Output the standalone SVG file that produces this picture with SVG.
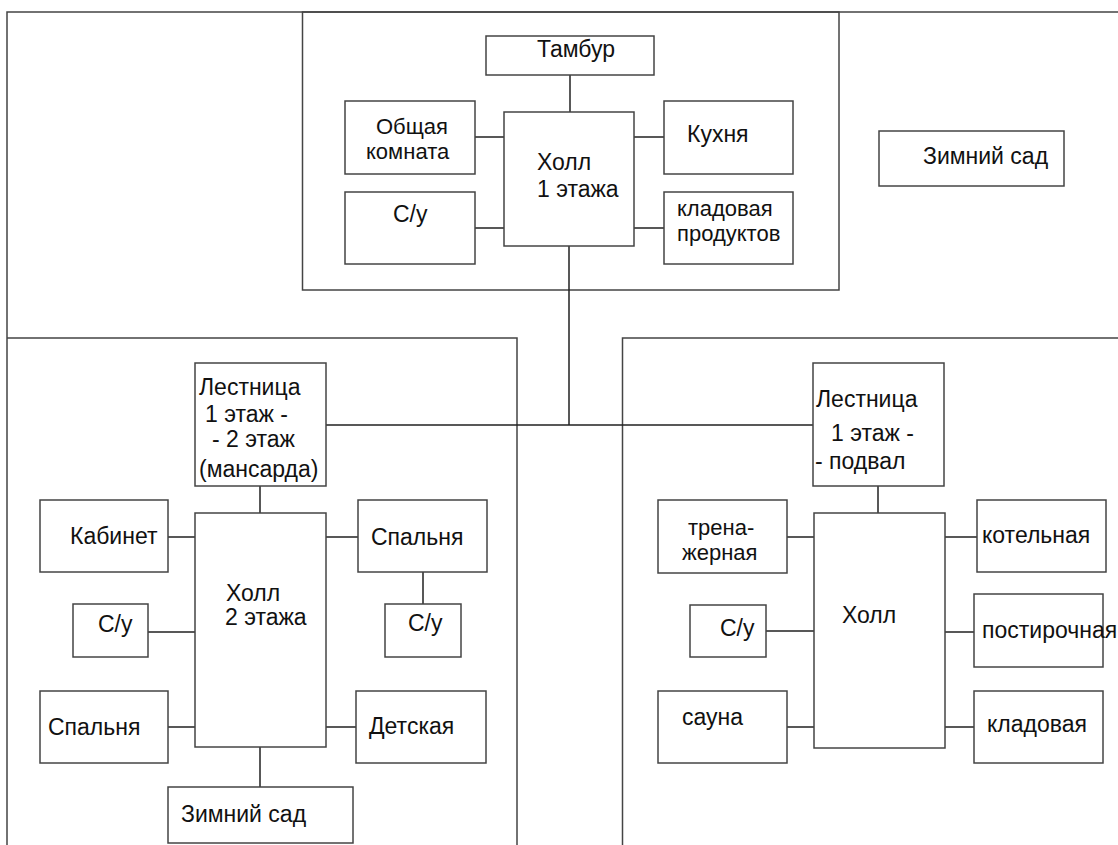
<svg xmlns="http://www.w3.org/2000/svg" width="1118" height="845" viewBox="0 0 1118 845">
<style>
.b{fill:#fff;stroke:#444;stroke-width:1.5}
.f{fill:none;stroke:#444;stroke-width:1.5}
.c{fill:none;stroke:#222;stroke-width:1.5}
text{font-family:"Liberation Sans",Arial,sans-serif;font-size:23px;fill:#111}
text.t{font-size:22px}
</style>
<rect width="1118" height="845" fill="#fff"/>
<g id="frame">
<path class="f" d="M7,845 V12 H1118"/>
<rect class="f" x="302.5" y="12" width="536.5" height="278"/>
<path class="f" d="M7,338 H517 V845"/>
<path class="f" d="M622.5,845 V338 H1118"/>
</g>
<g id="connectors">
<path class="c" d="M570,75 V112"/>
<path class="c" d="M475,137 H504 M475,228 H504 M634,137 H664 M634,228 H664"/>
<path class="c" d="M569,246 V425 M326,425 H813"/>
<path class="c" d="M260,486 V513 M168,537 H195 M148,632 H195 M168,727 H195 M326,537 H358 M326,727 H356 M423,572 V604 M260,736 V787"/>
<path class="c" d="M878,486 V513 M787,537 H814 M766,631 H814 M787,727 H814 M945,537 H977 M945,632 H974 M945,727 H974"/>
</g>
<g id="tambur"><rect class="b" x="486" y="36" width="168" height="39"/><text x="537" y="57">Тамбур</text></g>
<g id="obshaya"><rect class="b" x="345" y="101" width="130" height="73"/><text class="t"><tspan x="376" y="134">Общая</tspan><tspan x="366" y="159">комната</tspan></text></g>
<g id="su1"><rect class="b" x="345" y="192" width="130" height="72"/><text x="393" y="222">С/у</text></g>
<g id="holl1"><rect class="b" x="504" y="112" width="130" height="134"/><text><tspan x="537" y="170">Холл</tspan><tspan x="537" y="197">1 этажа</tspan></text></g>
<g id="kuhnya"><rect class="b" x="664" y="101" width="129" height="73"/><text x="687" y="142">Кухня</text></g>
<g id="kladovaya-prod"><rect class="b" x="664" y="192" width="129" height="72"/><text class="t"><tspan x="677" y="216">кладовая</tspan><tspan x="677" y="241">продуктов</tspan></text></g>
<g id="zimniy-sad-1"><rect class="b" x="879" y="131" width="185" height="55"/><text x="923" y="164">Зимний сад</text></g>
<g id="lestnica-2"><rect class="b" x="195" y="363" width="131" height="123"/><text><tspan x="199" y="395">Лестница</tspan><tspan x="205" y="422">1 этаж -</tspan><tspan x="212" y="447">- 2 этаж</tspan><tspan x="199" y="477">(мансарда)</tspan></text></g>
<g id="holl2"><rect class="b" x="195" y="513" width="131" height="234"/><text><tspan x="226" y="601">Холл</tspan><tspan x="225" y="625">2 этажа</tspan></text></g>
<g id="kabinet"><rect class="b" x="40" y="500" width="128" height="72"/><text x="70" y="544">Кабинет</text></g>
<g id="su2l"><rect class="b" x="73" y="604" width="75" height="53"/><text x="98" y="632">С/у</text></g>
<g id="spalnya-l"><rect class="b" x="40" y="691" width="128" height="72"/><text x="48" y="735">Спальня</text></g>
<g id="spalnya-r"><rect class="b" x="358" y="500" width="129" height="72"/><text x="371" y="545">Спальня</text></g>
<g id="su2r"><rect class="b" x="385" y="604" width="76" height="53"/><text x="408" y="631">С/у</text></g>
<g id="detskaya"><rect class="b" x="356" y="691" width="130" height="72"/><text x="369" y="734">Детская</text></g>
<g id="zimniy-sad-2"><rect class="b" x="168" y="787" width="185" height="56"/><text x="181" y="822">Зимний сад</text></g>
<g id="lestnica-p"><rect class="b" x="813" y="363" width="131" height="123"/><text><tspan x="816" y="407">Лестница</tspan><tspan x="831" y="441">1 этаж -</tspan><tspan x="815" y="469">- подвал</tspan></text></g>
<g id="holl-p"><rect class="b" x="814" y="513" width="131" height="235"/><text x="842" y="623">Холл</text></g>
<g id="trenazhernaya"><rect class="b" x="658" y="500" width="129" height="73"/><text class="t"><tspan x="688" y="535">трена-</tspan><tspan x="682" y="560">жерная</tspan></text></g>
<g id="su-p"><rect class="b" x="690" y="605" width="76" height="52"/><text x="720" y="636">С/у</text></g>
<g id="sauna"><rect class="b" x="658" y="691" width="129" height="72"/><text x="682" y="725">сауна</text></g>
<g id="kotelnaya"><rect class="b" x="977" y="500" width="129" height="72"/><text x="982" y="543">котельная</text></g>
<g id="postirochnaya"><rect class="b" x="974" y="594" width="129" height="73"/><text x="982" y="638">постирочная</text></g>
<g id="kladovaya"><rect class="b" x="974" y="691" width="129" height="72"/><text x="987" y="732">кладовая</text></g>
</svg>
